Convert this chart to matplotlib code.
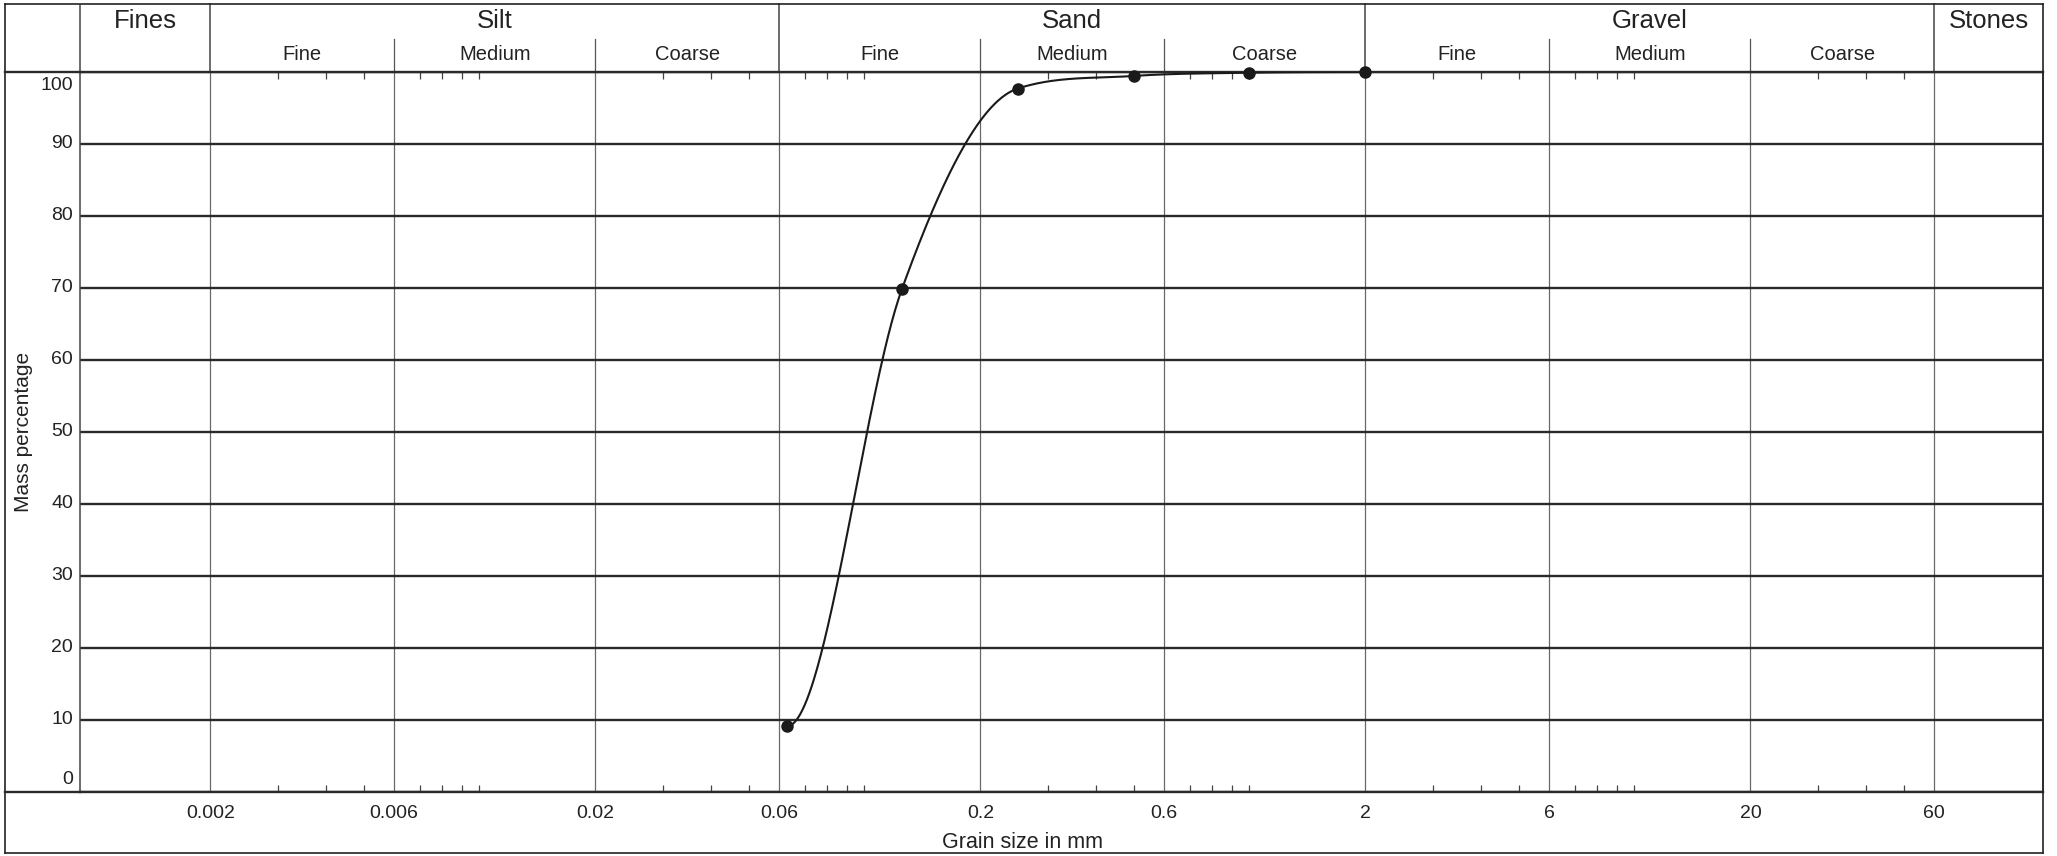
import numpy as np
import matplotlib
matplotlib.use("Agg")
import matplotlib.pyplot as plt
from matplotlib.lines import Line2D
from matplotlib.ticker import FixedLocator, NullFormatter
from matplotlib.transforms import blended_transform_factory

plt.rcParams["font.family"] = ["Liberation Sans", "DejaVu Sans"]

# sieve analysis: grain size (mm) vs mass percentage passing
grain_mm = [0.063, 0.125, 0.25, 0.5, 1.0, 2.0]
passing_pct = [9.15, 69.8, 97.7, 99.45, 99.9, 100.0]

x_ticks = [0.002, 0.006, 0.02, 0.06, 0.2, 0.6, 2, 6, 20, 60]
x_tick_labels = ["0.002", "0.006", "0.02", "0.06", "0.2", "0.6",
                 "2", "6", "20", "60"]
x_minor = [0.003, 0.004, 0.005, 0.007, 0.008, 0.009, 0.01,
           0.03, 0.04, 0.05, 0.07, 0.08, 0.09, 0.1,
           0.3, 0.4, 0.5, 0.7, 0.8, 0.9, 1,
           3, 4, 5, 7, 8, 9, 10,
           30, 40, 50]
y_ticks = [0, 10, 20, 30, 40, 50, 60, 70, 80, 90, 100]

XMIN, XMAX = 0.000917, 115.1
main_classes = ["Fines", "Silt", "Sand", "Gravel", "Stones"]
main_bounds = [XMIN, 0.002, 0.06, 2, 60, XMAX]
sub_classes = ["Fine", "Medium", "Coarse"] * 3
sub_bounds = x_ticks  # consecutive pairs from 0.002 to 60

W, H = 2057, 856
INK = "#222222"
HGRID = "#2a2a2a"
VGRID = "#6a6a6a"


def smooth_curve(x, y, n=500):
    """hermite curve in log-x: catmull-rom slopes, monotone limited,
    flat at both end points"""
    u = np.log10(x)
    y = np.asarray(y, float)
    h = np.diff(u)
    d = np.diff(y) / h
    m = np.zeros_like(y)
    for i in range(1, len(y) - 1):
        if d[i - 1] * d[i] > 0:
            m[i] = (y[i + 1] - y[i - 1]) / (u[i + 1] - u[i - 1])
            m[i] = min(m[i], 3 * min(d[i - 1], d[i]))
    uu = np.linspace(u[0], u[-1], n)
    k = np.clip(np.searchsorted(u, uu) - 1, 0, len(h) - 1)
    t = (uu - u[k]) / h[k]
    yy = ((2 * t**3 - 3 * t**2 + 1) * y[k]
          + (t**3 - 2 * t**2 + t) * h[k] * m[k]
          + (-2 * t**3 + 3 * t**2) * y[k + 1]
          + (t**3 - t**2) * h[k] * m[k + 1])
    return 10**uu, yy


def fig_line(x0, y0, x1, y1, lw=1.2, color=INK):
    # pixel coords, origin top-left
    fig.add_artist(Line2D([x0 / W, x1 / W], [1 - y0 / H, 1 - y1 / H],
                          transform=fig.transFigure, lw=lw, color=color))


fig = plt.figure(figsize=(W / 100, H / 100), dpi=100)
fig.patch.set_facecolor("white")
ax_l, ax_r, ax_t, ax_b = 80, 2043, 72, 792
ax = fig.add_axes([ax_l / W, 1 - ax_b / H, (ax_r - ax_l) / W, (ax_b - ax_t) / H])

ax.set_xscale("log")
ax.set_xlim(XMIN, XMAX)
ax.set_ylim(0, 100)

ax.xaxis.set_major_locator(FixedLocator(x_ticks))
ax.set_xticklabels(x_tick_labels)
ax.xaxis.set_minor_locator(FixedLocator(x_minor))
ax.xaxis.set_minor_formatter(NullFormatter())
ax.tick_params(axis="x", which="major", length=0, pad=9, labelsize=14,
               labelcolor=INK)
ax.tick_params(axis="x", which="minor", direction="in", length=5,
               width=0.9, color="#444444", top=True, bottom=True)
ax.yaxis.set_major_locator(FixedLocator(y_ticks))
ax.tick_params(axis="y", length=0, labelleft=False)

ax.grid(axis="x", which="major", color=VGRID, lw=0.9)
ax.grid(axis="y", which="major", color=HGRID, lw=1.7)
ax.set_axisbelow(True)
for side in ("top", "bottom"):
    ax.spines[side].set_color(HGRID)
    ax.spines[side].set_linewidth(1.7)
for side in ("left", "right"):
    ax.spines[side].set_color("#444444")
    ax.spines[side].set_linewidth(1.1)

# y labels: 100 hangs under the top rule, 0 sits on the bottom rule
ytr = ax.get_yaxis_transform()
for v in y_ticks:
    va, dy = "center", 0
    if v == 100:
        va, dy = "top", -3.5
    elif v == 0:
        va, dy = "baseline", 5.5
    ax.annotate(str(v), xy=(0, v), xycoords=ytr, xytext=(-5, dy),
                textcoords="offset points", ha="right", va=va,
                fontsize=14, color=INK)

# curve and measured points
cx, cy = smooth_curve(grain_mm, passing_pct)
ax.plot(cx, cy, color="#1a1a1a", lw=1.5, zorder=3)
ax.plot(grain_mm, passing_pct, "o", color="#1a1a1a", ms=8, zorder=4,
        clip_on=False)

# header table above the plot
xtr = blended_transform_factory(ax.transData, ax.transAxes)
top_y = (ax_b - 4) / (ax_b - ax_t)
sub_y = (ax_b - 39) / (ax_b - ax_t)
for b in main_bounds[1:-1]:
    ax.plot([b, b], [1, top_y], transform=xtr, color="#444444", lw=1.1,
            clip_on=False)
for b in sub_bounds:
    if b not in main_bounds:
        ax.plot([b, b], [1, sub_y], transform=xtr, color="#555555", lw=0.9,
                clip_on=False)
for name, a, b in zip(main_classes, main_bounds[:-1], main_bounds[1:]):
    ax.text(np.sqrt(a * b), (ax_b - 21) / (ax_b - ax_t), name,
            transform=xtr, ha="center", va="center", fontsize=18.5,
            color=INK)
for name, a, b in zip(sub_classes, sub_bounds[:-1], sub_bounds[1:]):
    ax.text(np.sqrt(a * b), (ax_b - 54) / (ax_b - ax_t), name,
            transform=xtr, ha="center", va="center", fontsize=14.5,
            color=INK)

# outer frame of the sheet
fig_line(5, 4, ax_r, 4)
fig_line(5, 4, 5, 853)
fig_line(5, 853, ax_r, 853)
fig_line(ax_r, 4, ax_r, 853)
fig_line(ax_l, 4, ax_l, ax_t, color="#444444", lw=1.1)
fig_line(5, ax_t, ax_l, ax_t, color=HGRID, lw=1.7)
fig_line(5, ax_b, ax_l, ax_b, color=HGRID, lw=1.7)

fig.text(1023 / W, 1 - 842 / H, "Grain size in mm", ha="center",
         va="center", fontsize=15.5, color=INK)
fig.text(24 / W, 1 - 432 / H, "Mass percentage", ha="center", va="center",
         rotation=90, fontsize=15, color=INK)

fig.savefig("out.png", dpi=100, facecolor="white")
